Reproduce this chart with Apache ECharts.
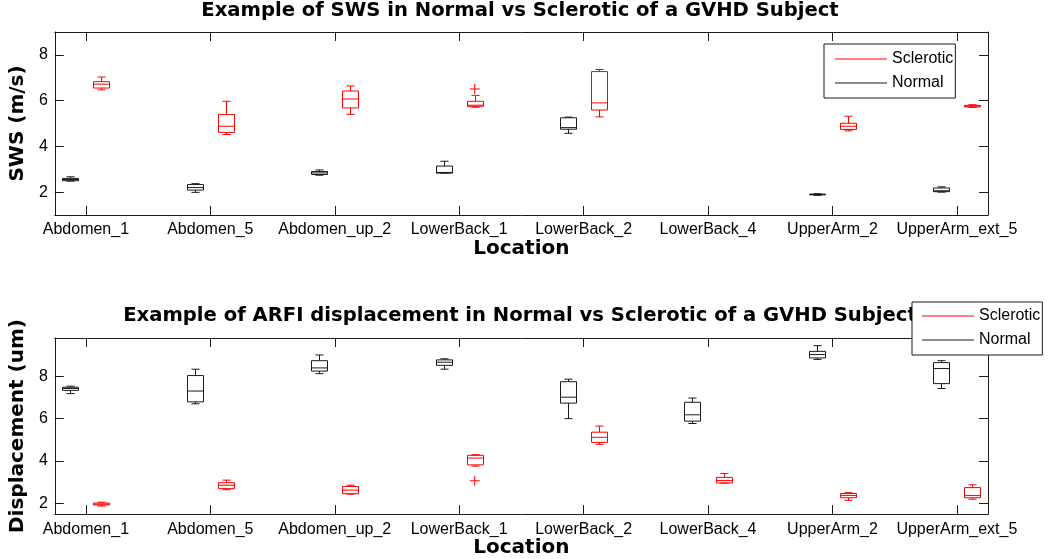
<!DOCTYPE html>
<html>
<head>
<meta charset="utf-8">
<script src="https://cdn.jsdelivr.net/npm/echarts@6/dist/echarts.min.js"></script>
<style>
  body { margin: 0; background: #fff; }
  #main { width: 1050px; height: 559px; }
</style>
</head>
<body>
<div id="main"></div>
<script>
  // locations on the x axis
  var categories = ['Abdomen_1', 'Abdomen_5', 'Abdomen_up_2', 'LowerBack_1',
    'LowerBack_2', 'LowerBack_4', 'UpperArm_2', 'UpperArm_ext_5'];
  var yTicks = [2, 4, 6, 8];

  // each box: [min, q1, median, q3, max], null = no data
  var swsNormal = [
    [2.48, 2.50, 2.55, 2.60, 2.67],
    [1.99, 2.09, 2.20, 2.33, 2.37],
    [2.74, 2.77, 2.84, 2.90, 2.97],
    [2.83, 2.83, 2.86, 3.14, 3.35],
    [4.57, 4.75, 4.82, 5.25, 5.28],
    null,
    [1.86, 1.88, 1.90, 1.91, 1.93],
    [2.00, 2.02, 2.06, 2.18, 2.23]
  ];
  var swsSclerotic = [
    [6.47, 6.55, 6.72, 6.83, 7.03],
    [4.52, 4.61, 4.88, 5.39, 5.97],
    [5.40, 5.68, 6.07, 6.42, 6.64],
    [5.71, 5.75, 5.80, 5.97, 6.23],
    [5.29, 5.59, 5.90, 7.27, 7.36],
    null,
    [4.68, 4.74, 4.88, 5.01, 5.32],
    [5.70, 5.72, 5.76, 5.79, 5.82]
  ];
  // outliers: [location number, value]
  var swsScleroticOutliers = [[4, 6.51]];

  var dispNormal = [
    [7.18, 7.33, 7.42, 7.48, 7.53],
    [6.70, 6.79, 7.30, 8.03, 8.33],
    [8.12, 8.24, 8.39, 8.73, 9.00],
    [8.33, 8.51, 8.66, 8.77, 8.82],
    [6.00, 6.73, 7.01, 7.74, 7.86],
    [5.77, 5.88, 6.18, 6.77, 6.97],
    [8.79, 8.86, 9.02, 9.17, 9.44],
    [7.42, 7.65, 8.36, 8.64, 8.73]
  ];
  var dispSclerotic = [
    [1.88, 1.93, 1.97, 2.02, 2.06],
    [2.65, 2.70, 2.86, 2.98, 3.10],
    [2.44, 2.46, 2.63, 2.80, 2.86],
    [3.76, 3.82, 4.14, 4.27, 4.30],
    [4.79, 4.88, 5.12, 5.36, 5.65],
    [2.96, 2.97, 3.08, 3.23, 3.41],
    [2.15, 2.27, 2.38, 2.47, 2.51],
    [2.20, 2.27, 2.38, 2.75, 2.88]
  ];
  var dispScleroticOutliers = [[4, 3.07]];

  var RED = '#ff0000';
  var BLACK = '#1a1a1a';
  var tickFont = 'Liberation Sans, Arial, sans-serif';
  var boldFont = 'DejaVu Sans, sans-serif';
  var catTicks = categories.map(function (c, i) { return i + 1; });

  function toItems(boxes) {
    var out = [];
    boxes.forEach(function (b, i) {
      if (b) out.push([i + 1].concat(b));
    });
    return out;
  }

  // box-and-whisker drawn through the axis scales
  function boxSeries(name, boxes, color, offset, idx) {
    return {
      name: name,
      type: 'custom',
      xAxisIndex: idx * 2,
      yAxisIndex: idx * 2,
      itemStyle: { color: color },
      data: toItems(boxes),
      renderItem: function (params, api) {
        var x = api.value(0) + offset;
        var w = api.size([0.13, 0])[0];
        var pt = function (k) { return api.coord([x, api.value(k)]); };
        var lo = pt(1), q1 = pt(2), md = pt(3), q3 = pt(4), hi = pt(5);
        var cx = Math.round(lo[0]) + 0.5;
        var l = Math.round(cx - w / 2) + 0.5, r = Math.round(cx + w / 2) - 0.5;
        var cap = w / 4;
        var st = { stroke: color, lineWidth: 1, fill: null };
        var line = function (x1, y1, x2, y2) {
          return { type: 'line', shape: { x1: x1, y1: y1, x2: x2, y2: y2 }, style: st };
        };
        return {
          type: 'group',
          children: [
            line(cx, hi[1], cx, q3[1]),
            line(cx, q1[1], cx, lo[1]),
            line(cx - cap, hi[1], cx + cap, hi[1]),
            line(cx - cap, lo[1], cx + cap, lo[1]),
            { type: 'rect', shape: { x: l, y: q3[1], width: r - l, height: q1[1] - q3[1] }, style: st },
            line(l, md[1], r, md[1])
          ]
        };
      }
    };
  }

  function outlierSeries(name, pts, color, offset, idx) {
    return {
      name: name,
      type: 'custom',
      xAxisIndex: idx * 2,
      yAxisIndex: idx * 2,
      itemStyle: { color: color },
      data: pts,
      renderItem: function (params, api) {
        var p = api.coord([api.value(0) + offset, api.value(1)]);
        var st = { stroke: color, lineWidth: 1 };
        return {
          type: 'group',
          children: [
            { type: 'line', shape: { x1: p[0] - 5, y1: p[1], x2: p[0] + 5, y2: p[1] }, style: st },
            { type: 'line', shape: { x1: p[0], y1: p[1] - 5, x2: p[0], y2: p[1] + 5 }, style: st }
          ]
        };
      }
    };
  }

  function xAxes(idx) {
    return [{
      gridIndex: idx, type: 'value', min: 0.75, max: 8.25, position: 'bottom',
      axisLine: { lineStyle: { color: BLACK } },
      axisTick: { inside: true, length: 9, customValues: catTicks, lineStyle: { color: BLACK } },
      axisLabel: {
        customValues: catTicks, margin: 7, color: '#000', fontSize: 16, fontFamily: tickFont,
        formatter: function (v) { return categories[Math.round(v) - 1]; }
      },
      splitLine: { show: false },
      name: 'Location', nameLocation: 'middle', nameGap: 20,
      nameTextStyle: { fontFamily: boldFont, fontWeight: 'bold', fontSize: 20, color: '#000' }
    }, {
      gridIndex: idx, type: 'value', min: 0.75, max: 8.25, position: 'top',
      axisLine: { lineStyle: { color: BLACK } },
      axisTick: { inside: true, length: 9, customValues: catTicks, lineStyle: { color: BLACK } },
      axisLabel: { show: false },
      splitLine: { show: false }
    }];
  }

  function yAxes(idx, min, max, name) {
    return [{
      gridIndex: idx, type: 'value', min: min, max: max, position: 'left',
      axisLine: { show: true, lineStyle: { color: BLACK } },
      axisTick: { show: true, inside: true, length: 9, customValues: yTicks, lineStyle: { color: BLACK } },
      axisLabel: { customValues: yTicks, margin: 7, color: '#000', fontSize: 16, fontFamily: tickFont },
      splitLine: { show: false },
      name: name, nameLocation: 'middle', nameGap: 25,
      nameTextStyle: { fontFamily: boldFont, fontWeight: 'bold', fontSize: 20, color: '#000' }
    }, {
      gridIndex: idx, type: 'value', min: min, max: max, position: 'right',
      axisLine: { show: true, lineStyle: { color: BLACK } },
      axisTick: { show: true, inside: true, length: 9, customValues: yTicks, lineStyle: { color: BLACK } },
      axisLabel: { show: false },
      splitLine: { show: false }
    }];
  }

  function legend(left, top, padding) {
    return {
      left: left, top: top, orient: 'vertical', z: 10,
      backgroundColor: '#fff', borderColor: BLACK, borderWidth: 1,
      padding: padding, itemGap: 8, itemWidth: 52, itemHeight: 1,
      textStyle: { fontFamily: tickFont, fontSize: 16, color: '#000' },
      data: [{ name: 'Sclerotic', icon: 'rect' }, { name: 'Normal', icon: 'rect' }]
    };
  }

  var chart = echarts.init(document.getElementById('main'));
  chart.setOption({
    animation: false,
    backgroundColor: '#fff',
    title: [{
      text: 'Example of SWS in Normal vs Sclerotic of a GVHD Subject',
      left: 520, top: 1, textAlign: 'center', padding: 0,
      textStyle: { fontFamily: boldFont, fontWeight: 'bold', fontSize: 19.6, color: '#000' }
    }, {
      text: 'Example of ARFI displacement in Normal vs Sclerotic of a GVHD Subject',
      left: 520, top: 306, textAlign: 'center', padding: 0,
      textStyle: { fontFamily: boldFont, fontWeight: 'bold', fontSize: 19.6, color: '#000' }
    }],
    legend: [legend(824, 44, [7, 2, 7, 11]), legend(912, 302, [6, 2, 7, 10])],
    grid: [
      { left: 43, right: 62, top: 32, height: 183 },
      { left: 43, right: 62, top: 338, height: 182 }
    ],
    xAxis: xAxes(0).concat(xAxes(1)),
    yAxis: yAxes(0, 1, 9, 'SWS (m/s)').concat(yAxes(1, 1.5, 9.8, 'Displacement (um)')),
    series: [
      boxSeries('Sclerotic', swsSclerotic, RED, 0.125, 0),
      boxSeries('Normal', swsNormal, BLACK, -0.125, 0),
      outlierSeries('swsOutliers', swsScleroticOutliers, RED, 0.125, 0),
      boxSeries('Sclerotic', dispSclerotic, RED, 0.125, 1),
      boxSeries('Normal', dispNormal, BLACK, -0.125, 1),
      outlierSeries('dispOutliers', dispScleroticOutliers, RED, 0.125, 1)
    ]
  });
</script>
</body>
</html>
